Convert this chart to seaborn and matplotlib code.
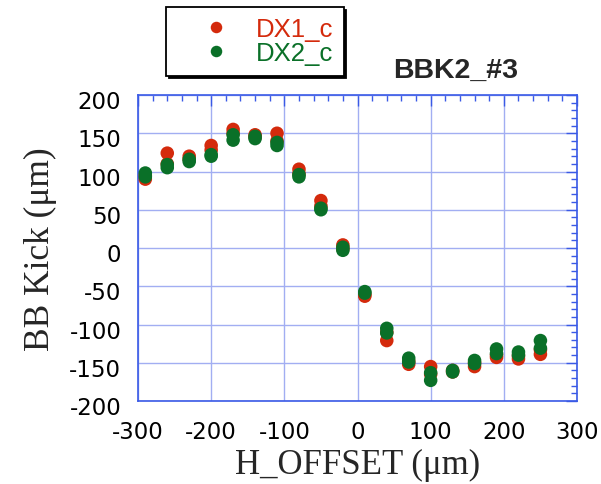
import matplotlib
matplotlib.use("Agg")
import matplotlib.pyplot as plt
from matplotlib.ticker import MultipleLocator
from matplotlib.transforms import ScaledTranslation
import pandas as pd
import seaborn as sns

# Horizontal offsets (um) scanned, two measurements at each offset
offsets = [-290, -290, -260, -260, -230, -230, -200, -200, -170, -170,
           -140, -140, -110, -110, -80, -80, -50, -50, -20, -20,
           10, 10, 40, 40, 70, 70, 100, 100, 130, 130,
           160, 160, 190, 190, 220, 220, 250, 250]

# Beam-beam kick (um) for each corrector
dx1_kick = [90, 95, 124, 110, 120, 116, 134, 128, 155, 150,
            148, 145, 150, 140, 103, 97, 62, 55, 4, -1,
            -61, -63, -121, -110, -148, -152, -155, -165, -160, -162,
            -150, -155, -143, -140, -141, -145, -139, -133]
dx2_kick = [98, 93, 109, 105, 116, 113, 122, 120, 148, 141,
            146, 143, 138, 134, 96, 93, 52, 50, 1, -3,
            -57, -59, -105, -111, -144, -149, -163, -173, -160, -162,
            -147, -151, -132, -138, -136, -140, -121, -131]

series_names = ["DX1_c", "DX2_c"]
series_colors = ["#d42a0c", "#0a7028"]

x_ticks = [-300, -200, -100, 0, 100, 200, 300]
y_ticks = [-200, -150, -100, -50, 0, 50, 100, 150, 200]

df = pd.DataFrame({
    "H_OFFSET": offsets * 2,
    "kick": dx1_kick + dx2_kick,
    "series": [series_names[0]] * len(dx1_kick) + [series_names[1]] * len(dx2_kick),
})

sns.set_style("white")
plt.rcParams["font.family"] = ["DejaVu Sans"]

fig = plt.figure(figsize=(6.01, 4.85), dpi=100)
ax = fig.add_axes([138 / 601, 1 - 402 / 485, (577 - 138) / 601, (402 - 96) / 485])

sns.scatterplot(data=df, x="H_OFFSET", y="kick", hue="series",
                palette=dict(zip(series_names, series_colors)),
                s=95, linewidth=0, ax=ax, zorder=3)

ax.set_xlim(-300, 300)
ax.set_ylim(-200, 200)
ax.set_xticks(x_ticks)
ax.set_yticks(y_ticks)
ax.set_xticklabels([str(v) for v in x_ticks])
ax.set_yticklabels([str(v) for v in y_ticks])
ax.xaxis.set_minor_locator(MultipleLocator(20))
ax.yaxis.set_minor_locator(MultipleLocator(10))

axis_blue = "#3a5ae6"
ax.grid(True, which="major", color="#a2aef2", linewidth=1.0, zorder=0)
for sp in ax.spines.values():
    sp.set_visible(True)
    sp.set_color(axis_blue)
    sp.set_linewidth(1.2)
ax.tick_params(which="both", direction="in", top=True, right=True,
               color=axis_blue, labelsize=16.5, labelcolor="black")
ax.tick_params(which="major", length=8, width=1.0)
ax.tick_params(which="minor", length=4.5, width=1.0)
ax.tick_params(axis="x", which="major", pad=14)
ax.tick_params(axis="y", which="major", pad=12)
for lab in ax.get_yticklabels():
    lab.set_transform(lab.get_transform() + ScaledTranslation(0, -3 / 72, fig.dpi_scale_trans))

serif = ["Liberation Serif", "DejaVu Serif"]
ax.set_xlabel("H_OFFSET (\u03bcm)", fontsize=25, family=serif, labelpad=3)
ax.set_ylabel("BB Kick (\u03bcm)", fontsize=25.5, family=serif, labelpad=9)

fig.text(456 / 601, 1 - 71 / 485, "BBK2_#3", fontsize=20.5, fontweight="bold",
         family=["Liberation Sans", "DejaVu Sans"], ha="center", va="center")

sns.move_legend(ax, "upper left", bbox_to_anchor=(166 / 601, 1 - 8 / 485),
                bbox_transform=fig.transFigure, title=None, frameon=True,
                fancybox=False, shadow={"color": "black", "alpha": 1.0},
                fontsize=18.5, markerscale=0.85, borderpad=0.4,
                handletextpad=0.0, borderaxespad=0, labelspacing=0.0,
                handlelength=3.1)
leg = ax.get_legend()
leg.get_frame().set_edgecolor("black")
leg.get_frame().set_linewidth(1.3)
for txt, col in zip(leg.get_texts(), series_colors):
    txt.set_color(col)
    txt.set_family(["Liberation Sans", "DejaVu Sans"])

fig.savefig("out.png", dpi=100)
